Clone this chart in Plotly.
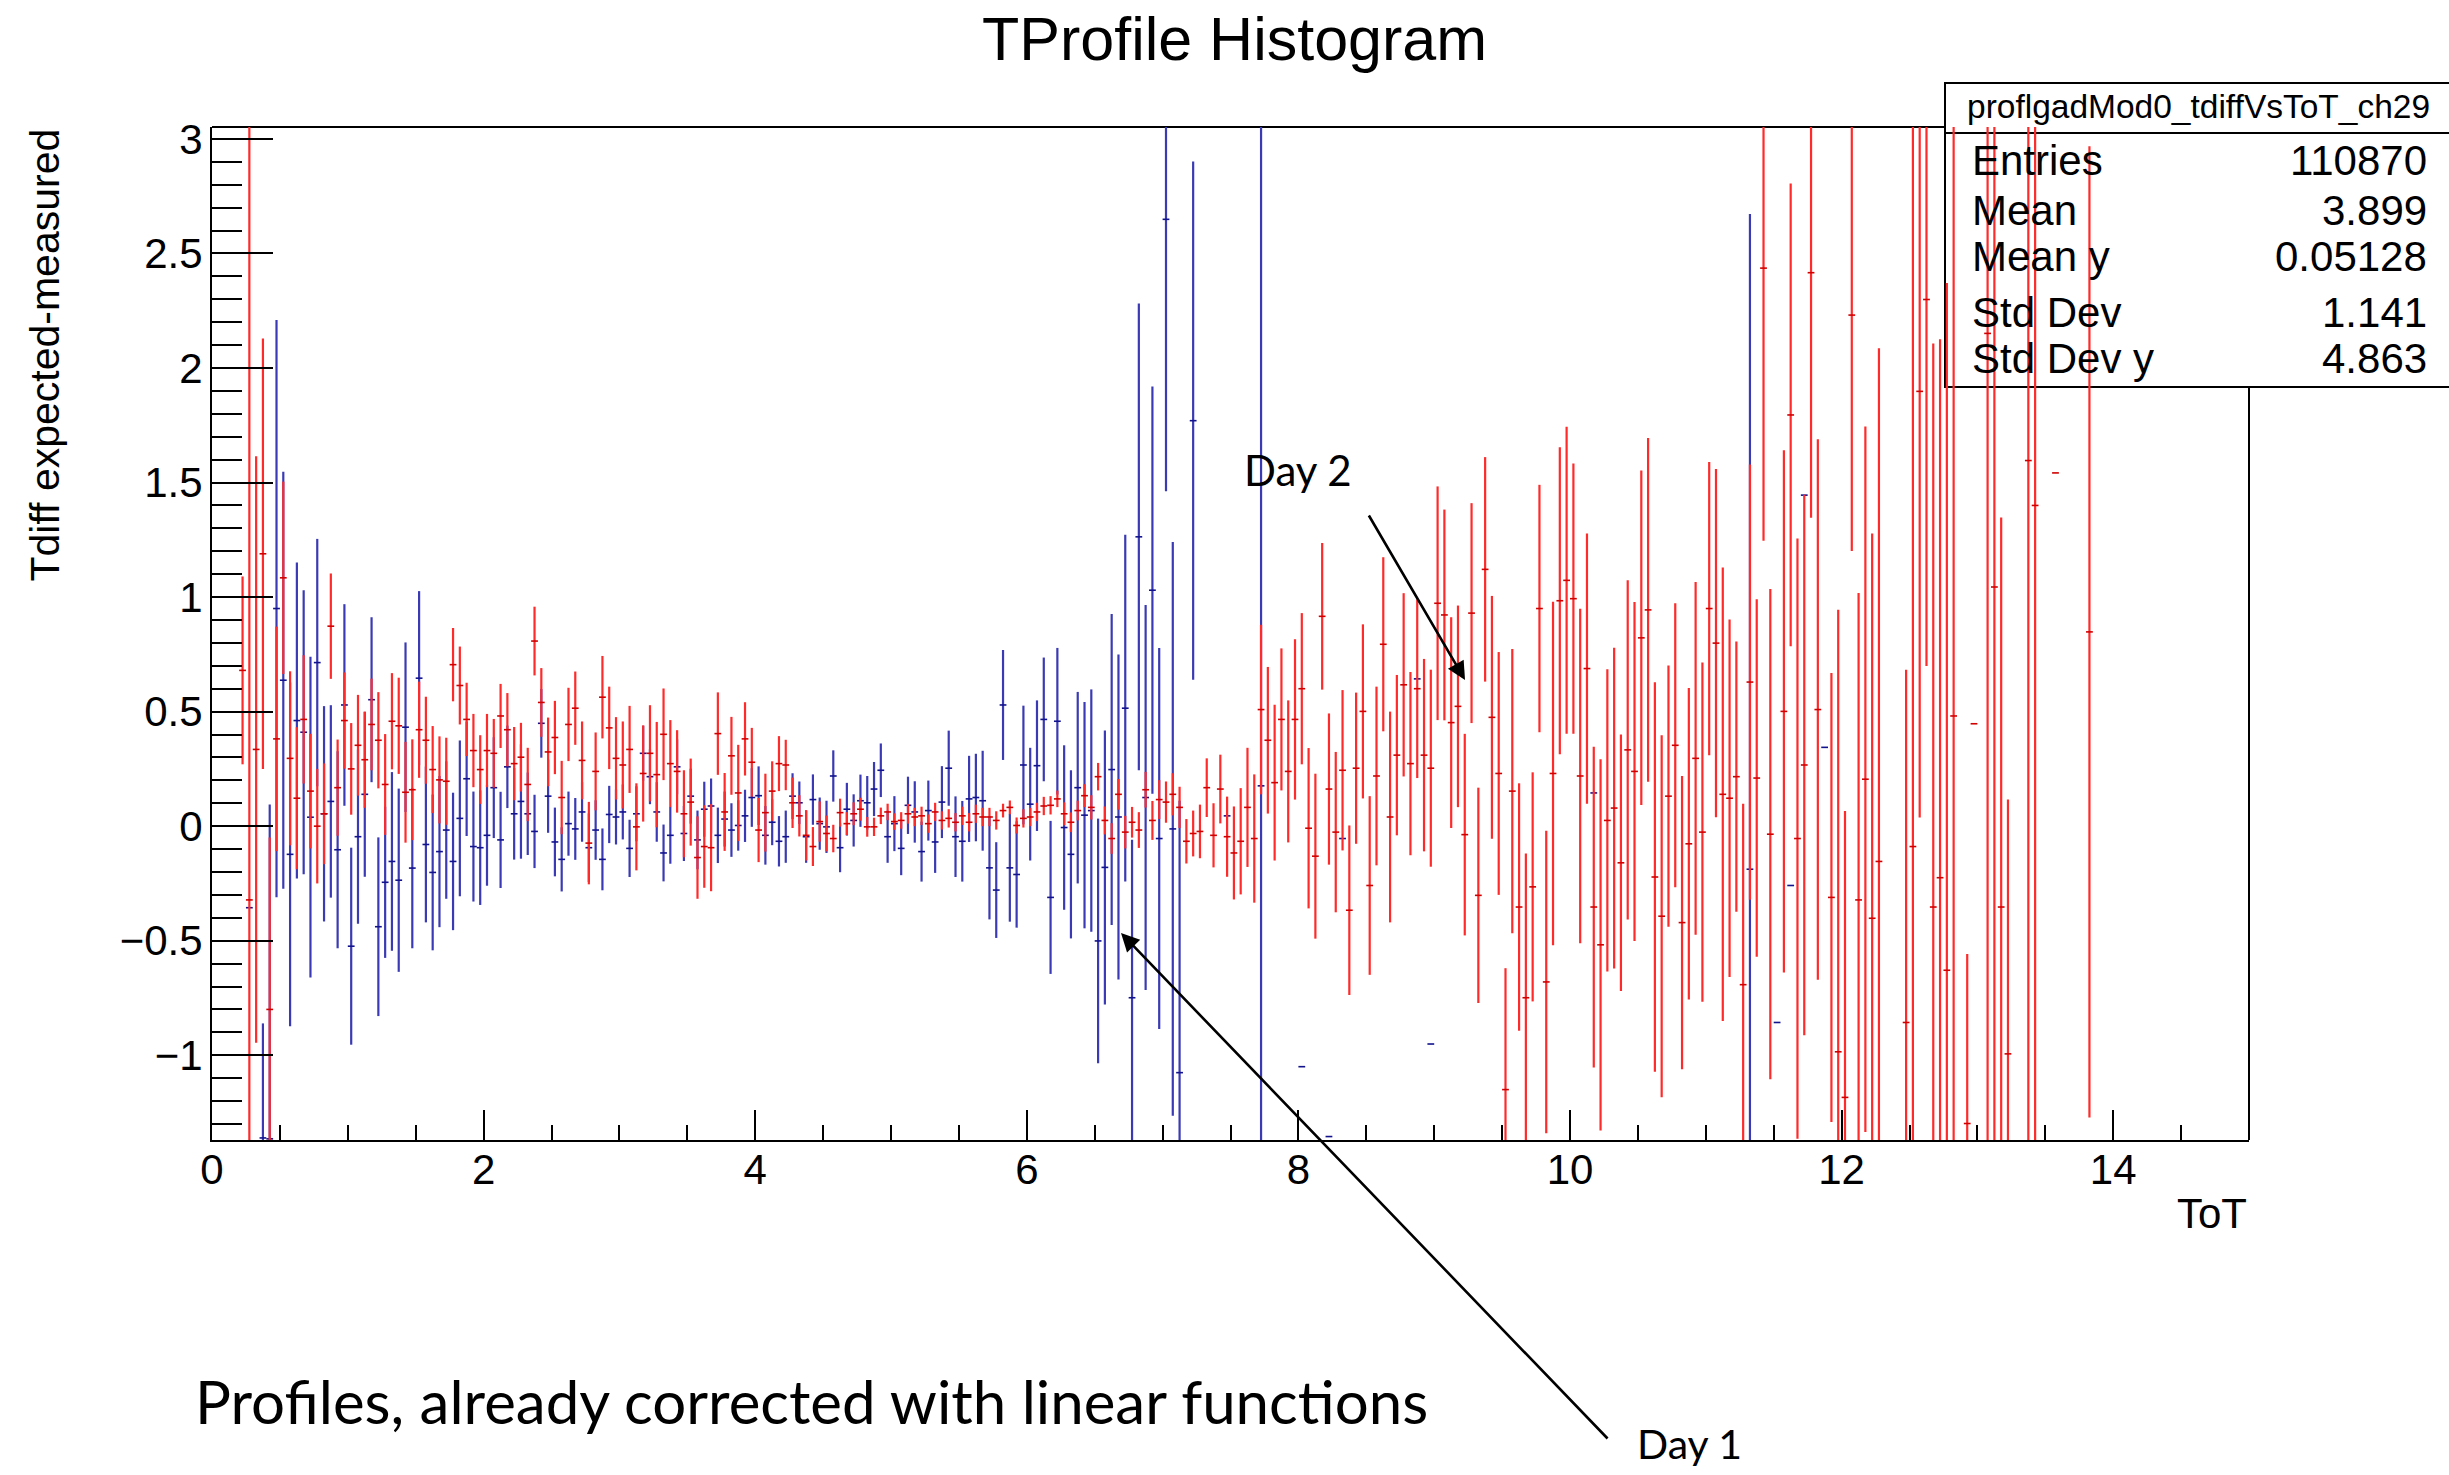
import plotly.graph_objects as go

# ToT profile binning (300 bins over 0..15)
BIN_WIDTH = 0.05

# ---------------- Day 2 profile (red) ----------------
red_bin = (list(range(4, 230)) + list(range(231, 237)) + list(range(238, 246))
           + list(range(249, 257)) + [258, 259, 261, 262, 263, 264, 267, 268, 271, 276])

red_mean = [
    0.680, -0.322, 0.335, 1.189, -0.800, 0.381, 1.084, 0.296, 0.122, 0.466,
    0.153, 0.000, 0.054, 0.873, 0.168, 0.461, 0.250, 0.353, 0.290, 0.444,
    0.375, 0.182, 0.458, 0.438, 0.148, 0.159, 0.421, 0.375, 0.247, 0.202,
    0.196, 0.705, 0.614, 0.466, 0.330, 0.247, 0.330, 0.318, 0.481, 0.421,
    0.273, 0.301, 0.182, 0.808, 0.540, 0.324, 0.387, 0.125, 0.444, 0.515,
    0.287, -0.074, 0.239, 0.563, 0.429, 0.296, 0.267, 0.335, -0.003, 0.230,
    0.318, 0.225, 0.401, 0.273, 0.239, 0.054, 0.105, -0.137, -0.089, -0.094,
    0.404, 0.062, 0.307, 0.145, 0.381, 0.279, -0.017, 0.059, 0.153, 0.273,
    0.267, 0.102, 0.045, -0.040, -0.089, 0.020, -0.032, -0.054, 0.059, 0.011,
    0.054, 0.074, -0.003, -0.003, 0.045, 0.062, 0.020, 0.025, 0.054, 0.040,
    0.045, 0.011, 0.062, 0.025, 0.034, 0.017, 0.045, 0.017, 0.054, 0.040,
    0.040, 0.025, 0.068, 0.082, 0.003, 0.034, 0.040, 0.062, 0.088, 0.091,
    0.119, 0.054, 0.017, 0.068, 0.133, 0.082, 0.216, 0.025, -0.054, 0.139,
    -0.026, 0.017, -0.017, 0.159, 0.025, 0.116, 0.105, 0.139, 0.082, -0.066,
    -0.032, -0.023, 0.168, -0.040, 0.162, -0.046, -0.117, -0.066, 0.082, -0.054,
    0.509, 0.375, 0.190, 0.466, 0.239, 0.466, 0.600, -0.009, -0.131, 0.916,
    0.162, -0.026, 0.244, -0.367, 0.253, 0.501, -0.259, 0.219, 0.794, 0.040,
    0.310, 0.617, 0.273, 0.600, 0.310, 0.253, 0.973, 0.922, 0.452, 0.523,
    -0.037, 0.930, -0.302, 1.121, 0.475, 0.230, -1.150, 0.153, -0.353, -0.749,
    -0.265, 0.950, -0.680, 0.230, 0.984, 1.073, 0.993, 0.219, 0.688, -0.353,
    -0.518, 0.025, 0.079, -0.160, 0.333, 0.239, 0.822, 0.944, -0.222, -0.393,
    0.131, 0.353, -0.421, -0.077, 0.296, -0.026, 0.950, 0.799, 0.139, 0.122,
    0.216, -0.692, 0.629, 0.210, 2.436, -0.035,
    0.501, 1.795, -0.054, 0.267, 2.416, 0.509,
    -0.311, -0.985, -1.184, 2.231, -0.322, 0.205, -0.402, -0.154,
    -0.857, -0.089, 1.898, 2.299, -0.353, -0.225, -0.629, 0.481,
    -1.298, 0.447, 2.151, 1.044, -0.353, -0.994, 1.596, 1.400, 1.542, 0.848,
]

red_err = [
    0.41, 3.60, 1.28, 0.94, 0.75, 0.49, 0.42, 0.38, 0.31, 0.28,
    0.25, 0.25, 0.22, 0.23, 0.21, 0.21, 0.20, 0.22, 0.21, 0.20,
    0.21, 0.22, 0.21, 0.21, 0.22, 0.22, 0.21, 0.19, 0.19, 0.19,
    0.19, 0.16, 0.17, 0.16, 0.16, 0.15, 0.16, 0.15, 0.14, 0.16,
    0.16, 0.15, 0.16, 0.15, 0.15, 0.15, 0.16, 0.16, 0.16, 0.16,
    0.17, 0.18, 0.17, 0.18, 0.18, 0.18, 0.19, 0.19, 0.19, 0.21,
    0.21, 0.23, 0.20, 0.19, 0.18, 0.19, 0.19, 0.18, 0.18, 0.19,
    0.18, 0.17, 0.17, 0.21, 0.16, 0.15, 0.14, 0.17, 0.13, 0.12,
    0.11, 0.11, 0.09, 0.11, 0.085, 0.088, 0.078, 0.060, 0.061, 0.050,
    0.050, 0.050, 0.043, 0.040, 0.036, 0.036, 0.036, 0.036, 0.043, 0.040,
    0.040, 0.040, 0.040, 0.040, 0.040, 0.040, 0.040, 0.040, 0.040, 0.040,
    0.040, 0.040, 0.030, 0.030, 0.035, 0.040, 0.040, 0.040, 0.040, 0.040,
    0.036, 0.050, 0.043, 0.043, 0.050, 0.053, 0.060, 0.061, 0.067, 0.067,
    0.071, 0.067, 0.078, 0.078, 0.085, 0.085, 0.090, 0.092, 0.090, 0.097,
    0.100, 0.117, 0.128, 0.140, 0.150, 0.175, 0.203, 0.232, 0.260, 0.280,
    0.37, 0.32, 0.34, 0.31, 0.31, 0.35, 0.33, 0.35, 0.36, 0.32,
    0.33, 0.35, 0.35, 0.37, 0.33, 0.38, 0.39, 0.39, 0.38, 0.46,
    0.35, 0.40, 0.40, 0.39, 0.42, 0.43, 0.51, 0.46, 0.46, 0.44,
    0.44, 0.48, 0.47, 0.49, 0.53, 0.53, 0.53, 0.62, 0.54, 0.63,
    0.50, 0.54, 0.66, 0.75, 0.67, 0.67, 0.59, 0.73, 0.59, 0.70,
    0.81, 0.66, 0.70, 0.56, 0.74, 0.74, 0.73, 0.75, 0.85, 0.79,
    0.57, 0.62, 0.64, 0.68, 0.77, 0.74, 0.64, 0.76, 0.99, 0.78,
    0.59, 0.79, 0.95, 0.78, 1.19, 1.07,
    1.14, 1.01, 1.31, 1.18, 1.07, 1.18,
    0.98, 1.93, 1.25, 1.03, 1.34, 1.54, 1.68, 2.24,
    1.54, 3.60, 1.86, 1.60, 2.46, 2.35, 3.00, 3.20,
    0.74, 0.00, 4.00, 3.00, 1.70, 1.11, 3.50, 3.30, 0.00, 2.12,
]

# ---------------- Day 1 profile (blue) ----------------
blue_bin = ([5] + list(range(7, 143))
            + [144, 149, 154, 160, 164, 166, 177, 179, 203, 226, 230, 232, 234, 237])

blue_mean = [
    -0.356,
    -1.361, -1.365, 0.950, 0.637, -0.123, 0.461, 0.410, 0.039, 0.714, 0.054,
    0.108, -0.103, 0.529, -0.524, -0.046, 0.139, 0.552, -0.439, -0.245, -0.154,
    -0.236, 0.432, -0.183, 0.646, -0.080, -0.202, -0.111, -0.017, -0.154, 0.034,
    0.207, -0.089, -0.094, -0.040, 0.168, -0.060, 0.259, 0.054, 0.108, 0.054,
    -0.023, 0.449, 0.131, -0.069, -0.145, 0.011, -0.012, 0.062, -0.094, -0.017,
    -0.145, 0.051, 0.040, 0.062, -0.097, 0.054, 0.318, 0.216, 0.062, -0.117,
    -0.040, 0.259, -0.032, 0.131, -0.060, 0.074, 0.088, -0.040, 0.031, -0.017,
    0.003, 0.045, 0.125, 0.133, -0.040, 0.017, -0.066, -0.046, 0.131, 0.102,
    -0.046, 0.116, 0.011, -0.003, 0.219, -0.094, 0.074, 0.025, 0.111, 0.102,
    0.162, 0.244, -0.046, 0.011, -0.097, 0.091, 0.062, -0.111, 0.068, -0.069,
    0.105, 0.253, -0.046, -0.066, 0.119, 0.125, 0.111, -0.182, -0.279, 0.529,
    -0.182, -0.211, 0.267, 0.096, 0.264, 0.466, -0.311, 0.458, -0.006, -0.123,
    0.168, 0.048, 0.068, -0.501, -0.180, 0.247, 0.040, 0.515, -0.749, 1.263,
    0.125, 1.030, -0.054, 2.649, -0.012, -1.076,
    1.770, 0.045, 0.176, -1.050, -1.355, -0.054, 0.643, -0.951, 0.145,
    -0.188, -0.857, -0.259, 1.445, 0.344,
]

blue_err = [
    0.00,
    0.50, 1.46, 1.26, 0.91, 0.75, 0.69, 0.62, 0.70, 0.54, 0.47,
    0.42, 0.43, 0.44, 0.43, 0.38, 0.36, 0.36, 0.39, 0.33, 0.39,
    0.40, 0.37, 0.35, 0.38, 0.34, 0.34, 0.33, 0.30, 0.30, 0.34,
    0.25, 0.24, 0.25, 0.22, 0.22, 0.21, 0.18, 0.20, 0.25, 0.18,
    0.16, 0.15, 0.16, 0.15, 0.14, 0.14, 0.135, 0.13, 0.15, 0.13,
    0.135, 0.125, 0.12, 0.12, 0.125, 0.12, 0.12, 0.12, 0.13, 0.124,
    0.124, 0.12, 0.12, 0.12, 0.128, 0.12, 0.12, 0.121, 0.12, 0.117,
    0.11, 0.114, 0.128, 0.128, 0.128, 0.10, 0.11, 0.114, 0.10, 0.093,
    0.114, 0.11, 0.114, 0.114, 0.112, 0.107, 0.115, 0.114, 0.114, 0.117,
    0.118, 0.117, 0.114, 0.12, 0.117, 0.125, 0.134, 0.131, 0.131, 0.135,
    0.157, 0.164, 0.176, 0.176, 0.188, 0.191, 0.218, 0.225, 0.209, 0.24,
    0.235, 0.232, 0.259, 0.246, 0.285, 0.27, 0.334, 0.32, 0.359, 0.367,
    0.418, 0.494, 0.529, 0.534, 0.598, 0.679, 0.709, 0.757, 0.69, 1.019,
    0.84, 0.889, 0.832, 1.187, 1.252, 1.187,
    1.131, 0.00, 3.20, 0.00, 0.00, 0.00, 0.00, 0.00, 0.00,
    2.86, 0.00, 0.00, 0.00, 0.00,
]

# axis ticks
x_tick_vals = [0, 2, 4, 6, 8, 10, 12, 14]
x_tick_text = ["0", "2", "4", "6", "8", "10", "12", "14"]
y_tick_vals = [-1, -0.5, 0, 0.5, 1, 1.5, 2, 2.5, 3]
y_tick_text = ["\u22121", "\u22120.5", "0", "0.5", "1", "1.5", "2", "2.5", "3"]

# statistics box contents
stat_title = "proflgadMod0_tdiffVsToT_ch29"
stat_labels = ["Entries", "Mean", "Mean y", "Std Dev", "Std Dev y"]
stat_values = ["110870", "3.899", "0.05128", "1.141", "4.863"]

W, H = 2449, 1475
L, R, T, B = 212, 2249, 127, 1140   # frame in page pixels
HELV = "Liberation Sans, Arial, Helvetica, sans-serif"
CALI = "Lato, Carlito, Calibri, sans-serif"


def px(xp):
    return (xp - L) / (R - L)


def py(yp):
    return (B - yp) / (B - T)


def centers(bins):
    return [(b + 0.5) * BIN_WIDTH for b in bins]


def profile_trace(bins, mean, err, bar_color, mark_color, name):
    return go.Scatter(
        x=centers(bins), y=mean, mode="markers", name=name,
        marker=dict(size=0.1, color="rgba(0,0,0,0)"),
        error_y=dict(type="data", array=err, symmetric=True, width=0,
                     thickness=2.2, color=bar_color),
        error_x=dict(type="constant", value=BIN_WIDTH / 2, width=0,
                     thickness=1.6, color=mark_color),
        showlegend=False, hoverinfo="skip",
    )


fig = go.Figure()
fig.add_trace(profile_trace(blue_bin, blue_mean, blue_err, "#3a3ab4", "#12128c", "Day 1"))
fig.add_trace(profile_trace(red_bin, red_mean, red_err, "#ff2a2a", "#d00000", "Day 2"))

shapes = [
    # upper and right frame edges (partly hidden by the stats box)
    dict(type="line", xref="paper", yref="paper", x0=0, x1=1, y0=1, y1=1,
         line=dict(color="black", width=2), layer="below"),
    dict(type="line", xref="paper", yref="paper", x0=1, x1=1, y0=0, y1=1,
         line=dict(color="black", width=2), layer="below"),
    # stats box
    dict(type="rect", xref="paper", yref="paper",
         x0=px(1945), x1=px(2470), y0=py(387), y1=py(83),
         fillcolor="white", line=dict(color="black", width=2), layer="below"),
    dict(type="line", xref="paper", yref="paper",
         x0=px(1945), x1=px(2470), y0=py(133), y1=py(133),
         line=dict(color="black", width=2), layer="below"),
]

annotations = [
    dict(text="TProfile Histogram", x=px(1234), y=py(39), xref="paper", yref="paper",
         showarrow=False, xanchor="center", yanchor="middle",
         font=dict(family=HELV, size=61, color="black")),
    dict(text="Tdiff expected-measured", x=px(44), y=py(127), xref="paper", yref="paper",
         showarrow=False, textangle=-90, xanchor="center", yanchor="top",
         font=dict(family=HELV, size=41, color="black")),
    dict(text="ToT", x=px(2249), y=py(1213), xref="paper", yref="paper",
         showarrow=False, xanchor="right", yanchor="middle",
         font=dict(family=HELV, size=42, color="black")),
    dict(text=stat_title, x=px(2198), y=py(107), xref="paper", yref="paper",
         showarrow=False, xanchor="center", yanchor="middle",
         font=dict(family=HELV, size=33.5, color="black")),
    # notes and arrows
    dict(text="Day 2", x=px(1242), y=py(470), xref="paper", yref="paper",
         showarrow=False, xanchor="left", yanchor="middle",
         font=dict(family=CALI, size=42, color="black")),
    dict(text="Day 1", x=px(1635), y=py(1443), xref="paper", yref="paper",
         showarrow=False, xanchor="left", yanchor="middle",
         font=dict(family=CALI, size=41, color="black")),
    dict(text="Profiles, already corrected with linear functions", x=px(193), y=py(1401),
         xref="paper", yref="paper", showarrow=False, xanchor="left", yanchor="middle",
         font=dict(family=CALI, size=60, color="black")),
    dict(text="", x=px(1465), y=py(680), xref="paper", yref="paper",
         showarrow=True, ax=1368 - 1465, ay=514 - 680, axref="pixel", ayref="pixel",
         arrowhead=2, arrowsize=1.4, arrowwidth=2.6, arrowcolor="black", standoff=0),
    dict(text="", x=px(1121), y=py(933), xref="paper", yref="paper",
         showarrow=True, ax=1609 - 1121, ay=1440 - 933, axref="pixel", ayref="pixel",
         arrowhead=2, arrowsize=1.4, arrowwidth=2.6, arrowcolor="black", standoff=0),
]

stat_rows_y = [160, 210, 256, 312, 358]
for lab, val, yp in zip(stat_labels, stat_values, stat_rows_y):
    annotations.append(dict(text=lab, x=px(1970), y=py(yp), xref="paper", yref="paper",
                            showarrow=False, xanchor="left", yanchor="middle",
                            font=dict(family=HELV, size=42, color="black")))
    annotations.append(dict(text=val, x=px(2429), y=py(yp), xref="paper", yref="paper",
                            showarrow=False, xanchor="right", yanchor="middle",
                            font=dict(family=HELV, size=42, color="black")))

fig.update_layout(
    width=W, height=H,
    margin=dict(l=L, r=W - R, t=T, b=H - B, pad=0),
    paper_bgcolor="white", plot_bgcolor="rgba(0,0,0,0)",
    shapes=shapes, annotations=annotations,
    xaxis=dict(range=[0, 15], tickmode="array", tickvals=x_tick_vals, ticktext=x_tick_text,
               ticks="inside", ticklen=30, tickwidth=2, tickcolor="black",
               minor=dict(ticks="inside", ticklen=15, tickwidth=2, tickcolor="black",
                          tickmode="linear", tick0=0, dtick=0.5),
               showline=True, linecolor="black", linewidth=2, mirror=False,
               showgrid=False, zeroline=False, ticklabelstandoff=-8,
               tickfont=dict(family=HELV, size=42, color="black")),
    yaxis=dict(range=[-1.370, 3.052], tickmode="array", tickvals=y_tick_vals, ticktext=y_tick_text,
               ticks="inside", ticklen=61, tickwidth=2, tickcolor="black",
               minor=dict(ticks="inside", ticklen=30, tickwidth=2, tickcolor="black",
                          tickmode="linear", tick0=0, dtick=0.1),
               showline=True, linecolor="black", linewidth=2, mirror=False,
               showgrid=False, zeroline=False, ticklabelstandoff=-1,
               tickfont=dict(family=HELV, size=42, color="black")),
)

fig.write_html("out.html")
